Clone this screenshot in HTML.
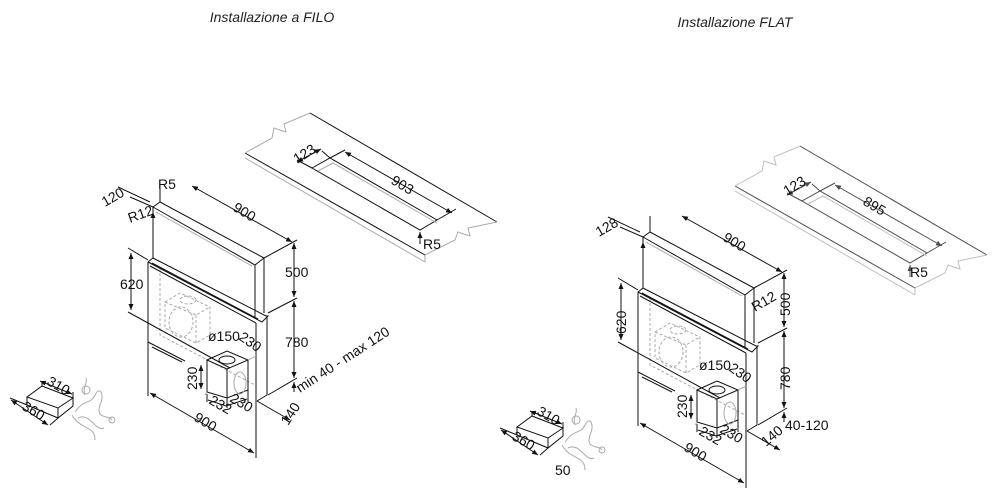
<!DOCTYPE html>
<html><head><meta charset="utf-8"><style>
html,body{margin:0;padding:0;background:#fff;}
svg{display:block;font-family:"Liberation Sans",Arial,sans-serif;}
.k{stroke:#111;stroke-width:1;fill:none}
.g{stroke:#aaa;stroke-width:1;fill:none}
.d{stroke:#aaa;stroke-width:1;fill:none;stroke-dasharray:3 2}
.t{font-size:14px;fill:#111}
.ti{font-size:14px;font-style:italic;fill:#222}
</style></head><body>
<svg width="1000" height="498" viewBox="0 0 1000 498">
<defs>
<marker id="a" markerWidth="6" markerHeight="6" refX="6" refY="3" orient="auto"><path d="M0,0.5 L6,3 L0,5.5z" fill="#111"/></marker>
<marker id="b" markerWidth="6" markerHeight="6" refX="0" refY="3" orient="auto"><path d="M6,0.5 L0,3 L6,5.5z" fill="#111"/></marker>
<g id="plan">
<path class="g" d="M245,158 L425,262 M425,255 L425,262"/>
<path class="k" d="M245,153 L425,255"/>
<path class="k" d="M310,113 L497,222"/>
<path class="g" d="M245,153 L272,138 L274,128 L286,132 L284,124 L310,113"/>
<path class="g" d="M425,255 L455,240 L458,232 L470,236 L468,228 L497,222"/>
<path class="k" d="M312,168 L330,158 L437,220 L420,230 Z"/>
<path class="g" d="M318,171 L333,163 L437,223"/>
<path class="k" d="M330,158 L345,150 M437,220 L456,209"/>
<path class="k" d="M345,152 L452,213" marker-start="url(#b)" marker-end="url(#a)"/>
<path class="k" d="M312,168 L297,160 M330,158 L322,151" />
<path class="k" d="M297,162 L321,149" marker-start="url(#b)" marker-end="url(#a)"/>
<path class="k" d="M420,244 L420,232" marker-end="url(#a)"/>
</g>
<g id="unit">
<path class="d" d="M165,302 L180,293 L210,307 L210,335 L196,343 L165,328 Z M196,315 L196,343 M165,302 L196,315 L210,307"/>
<ellipse class="d" cx="181" cy="322" rx="12" ry="15"/>
<ellipse class="d" cx="188" cy="300" rx="8" ry="4"/>
<path class="d" d="M160,268 L160,335 L255,385"/>
<path class="k" d="M153,258 L153,207 L160,202 L264,258 L255,265 L153,207 M255,265 L255,318 M264,258 L264,313"/>
<path class="g" d="M156,212 L252,266"/>
<path class="k" d="M148,262 L153,258 L266,316 L268,316 L262,322 L148,262 M150,266 L256,323"/>
<path class="k" stroke-width="2" d="M152,263 L258,319"/>
<path class="k" d="M148,262 L148,342 M256,323 L256,400 M267,316 L267,395 L257,401"/>
<path class="k" d="M148,342 L185,361" />
<path class="k" stroke-width="2" d="M152,347 L182,362"/>
<path class="k" d="M207,360 L227,351 L248,360 L227,369 Z M207,360 L207,392 L227,398 L248,390 L248,360 M227,369 L227,398"/>
<ellipse class="k" cx="227" cy="360" rx="8" ry="4"/>
<ellipse class="g" cx="240" cy="383" rx="6" ry="11"/>
<path class="g" d="M248,360 L256,356 M205,395 L207,392"/>
<path class="k" d="M160,202 L160,186 M153,207 L130,197 M150,202 L118,187"/>
<path class="k" d="M264,258 L297,240 M268,313 L297,298 M268,395 L297,378 M128,248 L148,260 M128,312 L230,368"/>
<path class="k" d="M294,243 L294,297" marker-start="url(#b)" marker-end="url(#a)"/>
<path class="k" d="M294,301 L294,378" marker-start="url(#b)" marker-end="url(#a)"/>
<path class="k" d="M294,382 L294,392" marker-start="url(#b)"/>
<path class="k" d="M131,253 L131,310" marker-start="url(#b)" marker-end="url(#a)"/>
<path class="k" d="M192,186 L292,242" marker-start="url(#b)" marker-end="url(#a)"/>
<path class="k" d="M153,252 L153,212" marker-end="url(#a)"/>
<path class="k" d="M148,342 L148,396 M256,400 L256,458"/>
<path class="k" d="M150,393 L254,453" marker-start="url(#b)" marker-end="url(#a)"/>
<path class="k" d="M257,401 L290,420" marker-end="url(#a)"/>
<path class="k" d="M201,365 L201,389" marker-start="url(#b)" marker-end="url(#a)"/>
<path class="k" d="M207,394 L207,402 M227,398 L227,408 M248,390 L248,402"/>
<path class="k" d="M208,400 L226,406 L247,399"/>
<path class="k" d="M27,397 L42,386 L73,398 L58,408 Z M27,397 L27,405 L58,418 L73,406 L73,398 M58,408 L58,418"/>
<path class="k" d="M42,386 L42,381 M73,398 L73,392 M27,405 L10,398 M58,418 L50,425"/>
<path class="k" d="M40,381 L72,394" marker-start="url(#b)" marker-end="url(#a)"/>
<path class="k" d="M11,400 L48,425" marker-start="url(#b)" marker-end="url(#a)"/>
<path class="g" d="M75,412 C85,398 90,405 95,395 C100,385 105,395 100,405 C95,420 110,415 112,420 M72,415 C80,430 95,425 95,440 M78,418 C90,412 95,432 104,428 M85,395 C82,388 88,383 86,378"/>
<circle class="g" cx="86" cy="390" r="4"/>
<circle class="g" cx="112" cy="420" r="3"/>
</g>
</defs>

<text class="ti" x="272" y="22" text-anchor="middle">Installazione a FILO</text>
<text class="ti" x="735" y="27" text-anchor="middle">Installazione FLAT</text>

<use href="#plan"/>
<g transform="translate(490,33)" style="opacity:0.75"><use href="#plan"/></g>
<use href="#unit"/>
<g transform="translate(490,30)"><use href="#unit"/></g>

<g class="t">
<text x="297" y="164" transform="rotate(-32 297 164)">123</text>
<text x="390" y="183" transform="rotate(31 390 183)">903</text>
<text x="423" y="249">R5</text>
<text x="158" y="189">R5</text>
<text x="105" y="207" transform="rotate(-30 105 207)">120</text>
<text x="130" y="223" transform="rotate(-20 130 223)">R12</text>
<text x="232" y="210" transform="rotate(31 232 210)">900</text>
<text x="285" y="277">500</text>
<text x="285" y="347">780</text>
<text x="120" y="289">620</text>
<text x="208" y="341">ø150</text>
<text x="238" y="339" transform="rotate(35 238 339)">230</text>
<text x="197" y="390" transform="rotate(-90 197 390)">230</text>
<text x="208" y="403" transform="rotate(30 208 403)">232</text>
<text x="229" y="401" transform="rotate(30 229 401)">230</text>
<text x="193" y="420" transform="rotate(31 193 420)">900</text>
<text x="300" y="393" transform="rotate(-33 300 393)">min 40 - max 120</text>
<text x="288" y="426" transform="rotate(-57 288 426)">140</text>
<text x="46" y="384" transform="rotate(30 46 384)">310</text>
<text x="21" y="409" transform="rotate(30 21 409)">360</text>
</g>
<g class="t">
<text x="787" y="196" transform="rotate(-32 787 196)">123</text>
<text x="862" y="204" transform="rotate(31 862 204)">895</text>
<text x="910" y="277">R5</text>
<text x="599" y="237" transform="rotate(-30 599 237)">128</text>
<text x="722" y="240" transform="rotate(31 722 240)">900</text>
<text x="755" y="312" transform="rotate(-30 755 312)">R12</text>
<text x="790" y="316" transform="rotate(-90 790 316)">500</text>
<text x="790" y="390" transform="rotate(-90 790 390)">780</text>
<text x="626" y="334" transform="rotate(-90 626 334)">620</text>
<text x="699" y="370">ø150</text>
<text x="728" y="370" transform="rotate(35 728 370)">230</text>
<text x="687" y="418" transform="rotate(-90 687 418)">230</text>
<text x="698" y="434" transform="rotate(30 698 434)">232</text>
<text x="719" y="432" transform="rotate(30 719 432)">230</text>
<text x="683" y="450" transform="rotate(31 683 450)">900</text>
<text x="785" y="430">40-120</text>
<text x="766" y="447" transform="rotate(-40 766 447)">140</text>
<text x="536" y="414" transform="rotate(30 536 414)">310</text>
<text x="511" y="439" transform="rotate(30 511 439)">360</text>
<text x="555" y="475">50</text>
</g>
</svg>
</body></html>
